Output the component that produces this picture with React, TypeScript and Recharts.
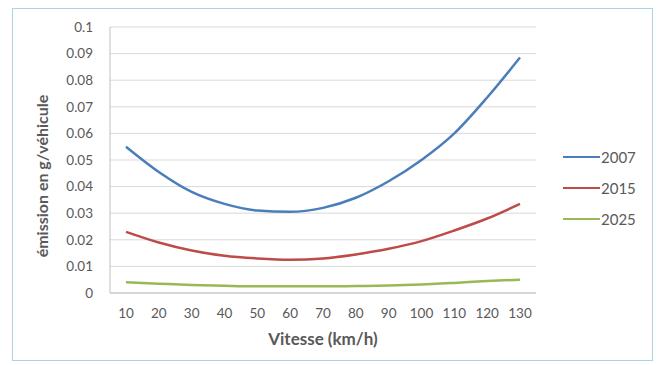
import React from "react";
import { LineChart, Line, XAxis, YAxis, CartesianGrid } from "recharts";

const speeds = [10, 20, 30, 40, 50, 60, 70, 80, 90, 100, 110, 120, 130];
const s2007 = [0.055, 0.0455, 0.038, 0.0335, 0.031, 0.0305, 0.032, 0.0358, 0.042, 0.05, 0.06, 0.0735, 0.0885];
const s2015 = [0.023, 0.019, 0.016, 0.014, 0.013, 0.0125, 0.013, 0.0145, 0.0166, 0.0195, 0.0235, 0.028, 0.0335];
const s2025 = [0.004, 0.0035, 0.003, 0.0027, 0.0025, 0.0025, 0.0025, 0.0026, 0.0028, 0.0032, 0.0038, 0.0045, 0.005];
const yTicks = [0, 0.01, 0.02, 0.03, 0.04, 0.05, 0.06, 0.07, 0.08, 0.09, 0.1];
const seriesNames = ["2007", "2015", "2025"];
const seriesColors = ["#4a7ebb", "#be4b48", "#98b954"];

const data = speeds.map((v, i) => ({
  speed: v,
  "2007": s2007[i],
  "2015": s2015[i],
  "2025": s2025[i],
}));

const FONT = "Lato, 'Open Sans', sans-serif";
const TXT = "#595959";

const fmt = (v: number) => (v === 0 ? "0" : v === 0.1 ? "0.1" : v.toFixed(2));

export default function App() {
  return (
    <div style={{ position: "absolute", left: 0, top: 0, width: 660, height: 365, background: "#fff", fontFamily: FONT }}>
      <div style={{ position: "absolute", left: 12, top: 8, width: 641, height: 353, border: "1px solid #a9d3e4", boxSizing: "border-box" }} />
      <div style={{ position: "absolute", left: 0, top: 0 }}>
        <LineChart width={660} height={365} data={data} margin={{ top: 27, right: 124, bottom: 42, left: 0 }}>
          <CartesianGrid vertical={false} stroke="#d9d9d9" />
          <XAxis
            dataKey="speed"
            height={30}
            padding={{ left: 16, right: 16 }}
            tickLine={false}
            tickSize={6}
            tickMargin={9}
            axisLine={{ stroke: "#bfbfbf" }}
            tick={{ fill: TXT, fontSize: 13.5, fontFamily: FONT }}
            interval={0}
            label={{
              value: "Vitesse (km/h)",
              position: "insideBottom",
              offset: -22,
              fill: TXT,
              fontSize: 17,
              fontWeight: 700,
              fontFamily: FONT,
            }}
          />
          <YAxis
            width={110}
            domain={[0, 0.1]}
            ticks={yTicks}
            tickFormatter={fmt}
            tickLine={false}
            tickSize={6}
            tickMargin={11}
            axisLine={{ stroke: "#bfbfbf" }}
            tick={{ fill: TXT, fontSize: 13.5, fontFamily: FONT }}
            label={{
              content: () => {
                const cy = 176;
                return (
                  <text
                    x={41}
                    y={cy}
                    transform={`rotate(-90 41 ${cy})`}
                    textAnchor="middle"
                    dominantBaseline="central"
                    fill={TXT}
                    fontSize={16}
                    fontWeight={700}
                    fontFamily={FONT}
                  >
                    émission en g/véhicule
                  </text>
                );
              },
            }}
          />
          {seriesNames.map((n, i) => (
            <Line
              key={n}
              type="monotone"
              dataKey={n}
              stroke={seriesColors[i]}
              strokeWidth={2.5}
              dot={false}
              isAnimationActive={false}
            />
          ))}
        </LineChart>
      </div>
      {seriesNames.map((n, i) => (
        <div
          key={n}
          style={{ position: "absolute", left: 563, top: 147 + i * 31, height: 20, display: "flex", alignItems: "center" }}
        >
          <div style={{ width: 37, height: 2.5, background: seriesColors[i] }} />
          <span style={{ marginLeft: 1, fontSize: 15, color: TXT }}>{n}</span>
        </div>
      ))}
    </div>
  );
}
